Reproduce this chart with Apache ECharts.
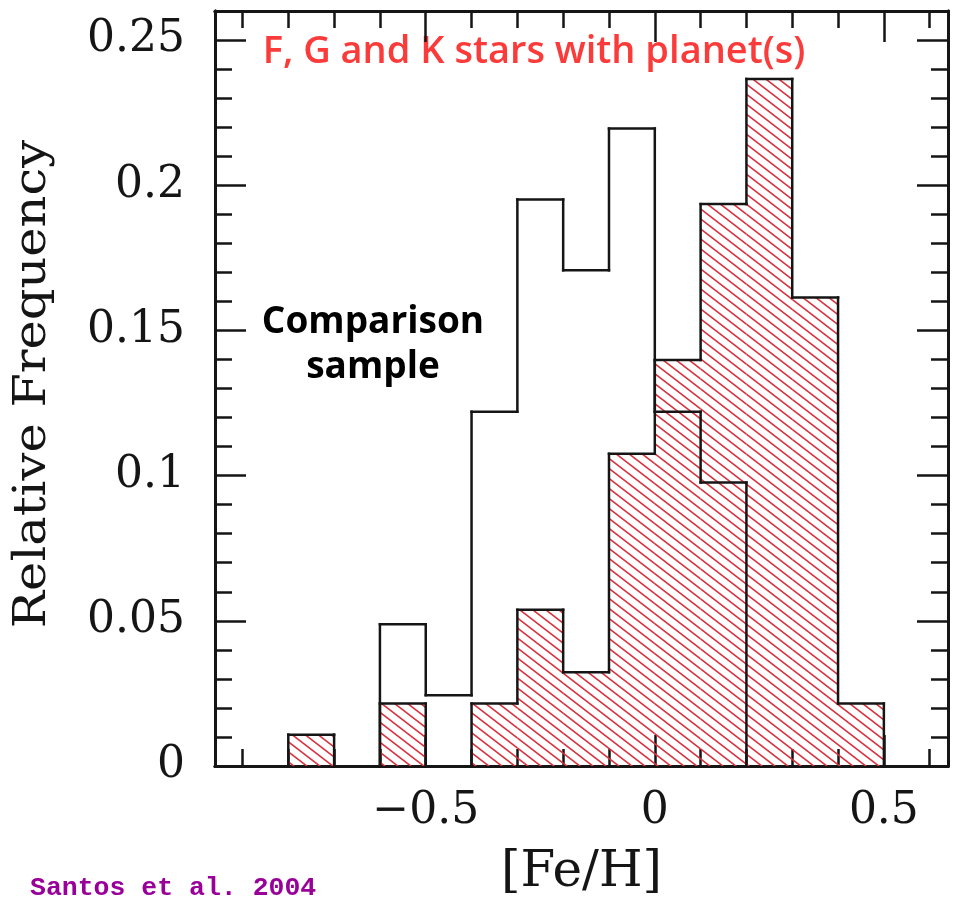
<!DOCTYPE html>
<html>
<head>
<meta charset="utf-8">
<title>[Fe/H] distribution</title>
<script src="https://cdn.jsdelivr.net/npm/echarts@6/dist/echarts.min.js"></script>
<style>
  html, body { margin: 0; padding: 0; background: #fff; }
  #chart { width: 953px; height: 900px; }
</style>
</head>
<body>
<div id="chart"></div>
<script>
// bin left edges, width 0.1 dex
const binStart = [-0.8, -0.7, -0.6, -0.5, -0.4, -0.3, -0.2, -0.1, 0.0, 0.1, 0.2, 0.3, 0.4]
const binWidth = 0.1

// stars with planets (hatched)
const planetFreq = [0.0108, 0, 0.0215, 0, 0.0215, 0.0538, 0.0323, 0.1075, 0.1398, 0.1935, 0.2366, 0.1613, 0.0215]
// comparison sample (open outline)
const comparisonFreq = [0, 0, 0.0488, 0.0244, 0.1220, 0.1951, 0.1707, 0.2195, 0.1220, 0.0976, 0, 0, 0]

const xMajor = [-0.5, 0, 0.5]
const xMajorLabels = ['\u22120.5', '0', '0.5']
const xMinor = [-0.9, -0.8, -0.7, -0.6, -0.4, -0.3, -0.2, -0.1, 0.1, 0.2, 0.3, 0.4, 0.6]
const yMajor = [0.05, 0.1, 0.15, 0.2, 0.25]
const yLabelValues = [0, 0.05, 0.1, 0.15, 0.2, 0.25]
const yMajorLabels = ['0', '0.05', '0.1', '0.15', '0.2', '0.25']
const yMinor = [0.01, 0.02, 0.03, 0.04, 0.06, 0.07, 0.08, 0.09, 0.11, 0.12, 0.13, 0.14,
  0.16, 0.17, 0.18, 0.19, 0.21, 0.22, 0.23, 0.24]

const INK = '#151515'
const SERIF = '"DejaVu Serif", serif'

// hatch tile: thin red lines running top-left to bottom-right
const hatch = document.createElement('canvas')
hatch.width = 13
hatch.height = 10
;(function () {
  const ctx = hatch.getContext('2d')
  ctx.strokeStyle = '#d8323e'
  ctx.lineWidth = 1.6
  for (let k = -1; k <= 1; k++) {
    ctx.beginPath()
    ctx.moveTo(k * 13 - 13, -10)
    ctx.lineTo(k * 13 + 26, 20)
    ctx.stroke()
  }
})()

function binData(freq) {
  return binStart.map((x, i) => [
    x,
    freq[i],
    i > 0 ? freq[i - 1] : 0,
    i
  ])
}

function stepRenderer(filled) {
  return function (params, api) {
    const x0 = api.value(0)
    const y = api.value(1)
    const yPrev = api.value(2)
    const idx = api.value(3)
    const x1 = x0 + binWidth
    const children = []
    const lineStyle = { stroke: INK, lineWidth: 2.5, lineCap: 'square' }

    if (filled && y > 0) {
      const a = api.coord([x0, 0])
      const b = api.coord([x1, y])
      children.push({
        type: 'rect',
        shape: { x: a[0], y: b[1], width: b[0] - a[0], height: a[1] - b[1] },
        style: { fill: { image: hatch, repeat: 'repeat' } },
        z2: 1
      })
    }
    if (y > 0) {
      const a = api.coord([x0, y])
      const b = api.coord([x1, y])
      children.push({ type: 'line', shape: { x1: a[0], y1: a[1], x2: b[0], y2: b[1] }, style: lineStyle, z2: 2 })
    }
    if (y !== yPrev) {
      const a = api.coord([x0, yPrev])
      const b = api.coord([x0, y])
      children.push({ type: 'line', shape: { x1: a[0], y1: a[1], x2: b[0], y2: b[1] }, style: lineStyle, z2: 2 })
    }
    if (idx === binStart.length - 1 && y > 0) {
      const a = api.coord([x1, y])
      const b = api.coord([x1, 0])
      children.push({ type: 'line', shape: { x1: a[0], y1: a[1], x2: b[0], y2: b[1] }, style: lineStyle, z2: 2 })
    }
    return { type: 'group', children }
  }
}

const frameLine = { show: true, onZero: false, lineStyle: { color: INK, width: 3 } }

function xAxisDef(position, ticks, len, extra) {
  return Object.assign({
    type: 'value',
    position,
    min: -0.96,
    max: 0.64,
    axisLine: frameLine,
    axisTick: { show: true, inside: true, length: len, customValues: ticks, lineStyle: { color: INK, width: 2.5 } },
    axisLabel: { show: false },
    splitLine: { show: false }
  }, extra || {})
}

function yAxisDef(position, ticks, len, extra) {
  return Object.assign({
    type: 'value',
    position,
    min: 0,
    max: 0.26,
    axisLine: frameLine,
    axisTick: { show: true, inside: true, length: len, customValues: ticks, lineStyle: { color: INK, width: 2.5 } },
    axisLabel: { show: false },
    splitLine: { show: false }
  }, extra || {})
}

const chart = echarts.init(document.getElementById('chart'))

chart.setOption({
  backgroundColor: '#fff',
  animation: false,
  grid: { left: 215, right: 5, top: 11, bottom: 134, containLabel: false, outerBoundsMode: 'none' },
  xAxis: [
    xAxisDef('bottom', xMajor, 31, {
      axisLabel: {
        show: true,
        customValues: xMajor,
        formatter: v => xMajorLabels[xMajor.indexOf(v)],
        color: INK,
        fontFamily: SERIF,
        fontSize: 44,
        margin: 24
      },
      name: '[Fe/H]',
      nameLocation: 'middle',
      nameGap: 82,
      nameTextStyle: { color: INK, fontFamily: SERIF, fontSize: 50 }
    }),
    xAxisDef('bottom', xMinor, 17),
    xAxisDef('top', xMajor, 31),
    xAxisDef('top', xMinor, 17)
  ],
  yAxis: [
    yAxisDef('left', yMajor, 31, {
      axisLabel: {
        show: true,
        customValues: yLabelValues,
        formatter: v => yMajorLabels[yLabelValues.indexOf(v)],
        color: INK,
        fontFamily: SERIF,
        fontSize: 44,
        margin: 30
      }
    }),
    yAxisDef('left', yMinor, 17),
    yAxisDef('right', yMajor, 31),
    yAxisDef('right', yMinor, 17)
  ],
  series: [
    {
      name: 'F, G and K stars with planet(s)',
      type: 'custom',
      xAxisIndex: 0,
      yAxisIndex: 0,
      renderItem: stepRenderer(true),
      data: binData(planetFreq),
      z: 2
    },
    {
      name: 'Comparison sample',
      type: 'custom',
      xAxisIndex: 0,
      yAxisIndex: 0,
      renderItem: stepRenderer(false),
      data: binData(comparisonFreq),
      z: 3
    }
  ],
  graphic: [
    {
      // y-axis title, stretched a little along its length like the original lettering
      type: 'text',
      x: 33,
      y: 384,
      rotation: Math.PI / 2,
      scaleX: 1.1,
      style: {
        text: 'Relative Frequency',
        align: 'center',
        verticalAlign: 'middle',
        fill: INK,
        font: '45px "DejaVu Serif", serif'
      }
    },
    {
      type: 'text',
      x: 534,
      y: 52,
      style: {
        text: 'F, G and K stars with planet(s)',
        align: 'center',
        verticalAlign: 'middle',
        fill: '#fb3a3a',
        font: '600 38px "Open Sans", sans-serif'
      }
    },
    {
      type: 'text',
      x: 373,
      y: 345,
      style: {
        text: 'Comparison\nsample',
        align: 'center',
        verticalAlign: 'middle',
        lineHeight: 45,
        fill: '#000',
        font: 'bold 37px "Open Sans", sans-serif'
      }
    },
    {
      type: 'text',
      x: 30,
      y: 888,
      style: {
        text: 'Santos et al. 2004',
        align: 'left',
        verticalAlign: 'middle',
        fill: '#990099',
        font: 'bold 26.5px "Liberation Mono", monospace'
      }
    }
  ]
})
</script>
</body>
</html>
